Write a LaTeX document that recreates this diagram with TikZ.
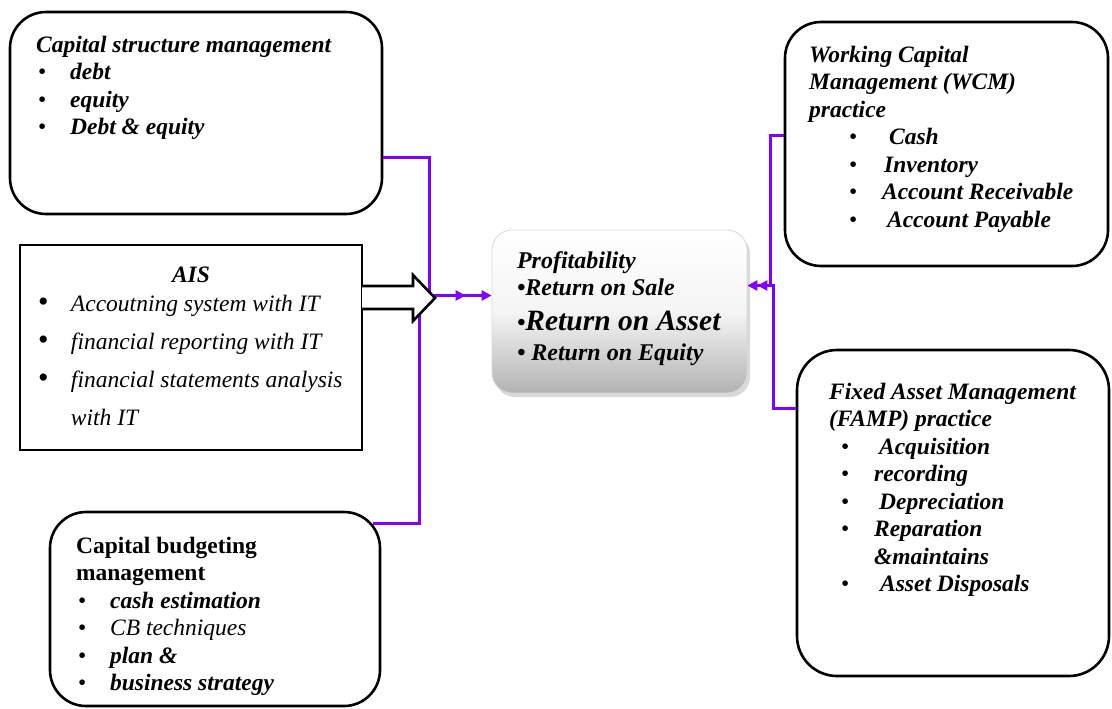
\documentclass[tikz,border=0pt]{standalone}
\usepackage{fontspec}
\setmainfont{Liberation Serif}
\usetikzlibrary{positioning, arrows.meta, shadows}
\definecolor{linkviolet}{RGB}{128,0,255}
\newcommand{\blt}[2]{\makebox[#1][l]{\mdseries\upshape\textbullet}#2}
\newcommand{\bigblt}[2]{\makebox[#1][l]{\fontsize{15}{15}\selectfont\upshape\textbullet}#2}

\begin{document}
\begin{tikzpicture}[x=0.5pt, y=-0.5pt,
  rbox/.style={draw, line width=1.3pt, rounded corners=18pt},
  sbox/.style={draw, line width=1.4pt},
  txt/.style={anchor=north west, inner sep=0pt, align=left,
    font=\fontsize{11.75}{13.75}\selectfont\bfseries\itshape},
  link/.style={draw=linkviolet, line width=1.5pt},
  tip/.style={-{Triangle[length=5pt,width=5pt]}}]

\useasboundingbox (0,0) rectangle (1112,708);

% boxes
\node[rbox, minimum width=186pt, minimum height=101pt] (csm) at (196,113) {};
\node[sbox, minimum width=171pt, minimum height=102.5pt] (ais) at (191,347.5) {};
\node[rbox, minimum width=165pt, minimum height=97pt] (cbm) at (215,609) {};
\node[draw=black!15, rounded corners=10pt, top color=white, bottom color=black!30,
  middle color=black!4, drop shadow={opacity=0.3, shadow xshift=1.5pt, shadow yshift=-2pt},
  minimum width=127.5pt, minimum height=81.5pt] (prof) at (619.5,311.5) {};
\node[rbox, minimum width=161.5pt, minimum height=122pt] (wcm) at (946.5,144) {};
\node[rbox, rounded corners=20pt, minimum width=156pt, minimum height=163pt] (famp) at (953,513) {};

% texts
\node[txt] (csmtxt) at ([xshift=13.5pt,yshift=-12.5pt]csm.north west)
  {Capital structure management\\
   \hspace*{1pt}\blt{16pt}{debt}\\
   \hspace*{1pt}\blt{16pt}{equity}\\
   \hspace*{1pt}\blt{16pt}{Debt \& equity}};

\node[txt, anchor=north, font=\fontsize{11.75}{13.75}\selectfont\bfseries\itshape]
  (aistitle) at ([yshift=-11.5pt]ais.north) {AIS};
\node[txt, font=\fontsize{11.75}{19}\selectfont\itshape] (aistxt)
  at ([xshift=9.5pt,yshift=-25.5pt]ais.north west)
  {\bigblt{16.5pt}{Accoutning system with IT}\\
   \bigblt{16.5pt}{financial reporting with IT}\\
   \bigblt{16.5pt}{financial statements analysis}\\
   \hspace*{16.5pt}with IT};

\node[txt] (cbmtxt) at ([xshift=13.5pt,yshift=-13pt]cbm.north west)
  {{\upshape Capital budgeting}\\
   {\upshape management}\\
   \hspace*{1pt}\blt{16pt}{cash estimation}\\
   \hspace*{1pt}\blt{16pt}{\mdseries CB techniques}\\
   \hspace*{1pt}\blt{16pt}{plan \&}\\
   \hspace*{1pt}\blt{16pt}{business strategy}};

\node[txt, font=\fontsize{12}{13.5}\selectfont\bfseries\itshape] (proftxt)
  at ([xshift=12.5pt,yshift=-11pt]prof.north west)
  {Profitability\\
   \textbullet Return on Sale\\[4pt]
   \textbullet{\fontsize{14.75}{17}\selectfont Return on Asset}\\[1.5pt]
   \textbullet\ Return on Equity};

\node[txt] (wcmtxt) at ([xshift=12.5pt,yshift=-12.5pt]wcm.north west)
  {Working Capital\\
   Management (WCM)\\
   practice\\
   \hspace*{20pt}\blt{20pt}{Cash}\\
   \hspace*{20pt}\blt{17.5pt}{Inventory}\\
   \hspace*{20pt}\blt{16.5pt}{Account Receivable}\\
   \hspace*{20pt}\blt{19pt}{Account Payable}};

\node[txt] (famptxt) at ([xshift=16.5pt,yshift=-17pt]famp.north west)
  {Fixed Asset Management\\
   (FAMP) practice\\
   \hspace*{6pt}\blt{19pt}{Acquisition}\\
   \hspace*{6pt}\blt{16.5pt}{recording}\\
   \hspace*{6pt}\blt{19pt}{Depreciation}\\
   \hspace*{6pt}\blt{16.5pt}{Reparation}\\
   \hspace*{22.5pt}\&maintains\\
   \hspace*{6pt}\blt{19.5pt}{Asset Disposals}};

% connectors
\coordinate (pin) at ([yshift=8pt]prof.west);
\coordinate (pmid) at ([xshift=-13pt]pin);
\coordinate (jcs) at ([xshift=-31pt]pin);
\coordinate (jcb) at ([xshift=-36pt]pin);
\coordinate (pout) at ([yshift=13pt]prof.east);
\coordinate (pout2) at ([xshift=5pt]pout);
\coordinate (jw) at ([xshift=11.5pt]pout);
\coordinate (jf) at ([xshift=13pt]pout);

\draw[link, tip] ([yshift=-22pt]csm.east) -| (jcs) -- (pin);
\draw[link, tip] ([xshift=-4pt,yshift=-6.5pt]cbm.north east) -| (jcb) -- (pmid);
\draw[link, tip] ([yshift=4.5pt]wcm.west) -| (jw) -- (pout);
\draw[link, tip] ([yshift=52.5pt]famp.west) -| (jf) -- (pout2);

% block arrow out of AIS
\draw[line width=1.3pt, fill=white] (362,286) -- (413,286) -- (413,275)
  -- (435,298) -- (413,321) -- (413,309) -- (362,309);
\end{tikzpicture}
\end{document}
